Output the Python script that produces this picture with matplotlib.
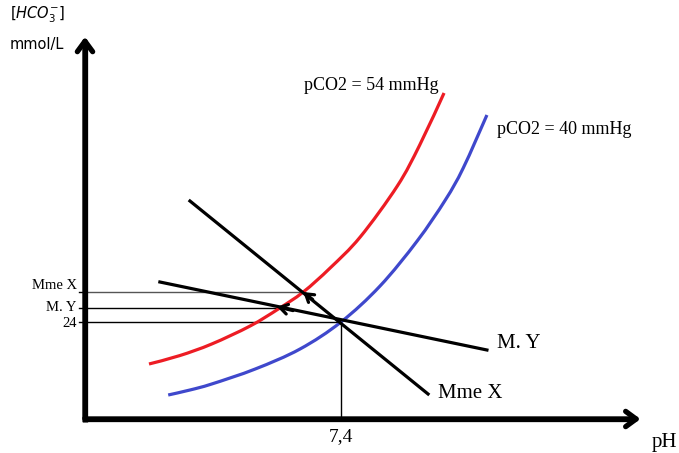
import numpy as np
import matplotlib.pyplot as plt
from matplotlib.path import Path
from matplotlib.patches import PathPatch

# pH / [HCO3-] values
ph_40 = [7.130, 7.164, 7.198, 7.266, 7.336, 7.400, 7.461, 7.519, 7.563, 7.591, 7.628]
hco3_40 = [5.75, 7.0, 8.5, 12.25, 17.25, 24.0, 33.0, 44.25, 54.5, 62.5, 75.75]

ph_54 = [7.100, 7.148, 7.198, 7.258, 7.302, 7.341, 7.383, 7.430, 7.488, 7.523, 7.561]
hco3_54 = [13.5, 15.6, 18.5, 23.0, 27.25, 31.5, 37.5, 45.25, 58.0, 68.25, 81.25]

# buffer lines through the normal point
mme_x_ph = [7.164, 7.536]
mme_x_hco3 = [54.25, 6.0]
my_ph = [7.117, 7.628]
my_hco3 = [34.0, 17.0]

normal_ph = 7.40
normal_hco3 = 24.0
levels = [31.5, 27.5, 24.0]
level_labels = ["Mme X", "M. Y", "24"]
level_ends = [7.341, 7.30, 7.40]
level_colors = ["#555555", "black", "black"]

red = "#ed1c24"
blue = "#3f48cc"
serif = "Liberation Serif"


def smooth_path(xs, ys):
    # bezier path through the read points (catmull-rom handles)
    p = np.column_stack([xs, ys])
    verts = [p[0]]
    codes = [Path.MOVETO]
    for i in range(len(p) - 1):
        p0 = p[i - 1] if i > 0 else p[i]
        p3 = p[i + 2] if i + 2 < len(p) else p[i + 1]
        c1 = p[i] + (p[i + 1] - p0) / 6
        c2 = p[i + 1] - (p3 - p[i]) / 6
        verts += [c1, c2, p[i + 1]]
        codes += [Path.CURVE4] * 3
    return Path(verts, codes)


fig = plt.figure(figsize=(6.79, 4.53), dpi=100)
ax = fig.add_axes([0, 0, 1, 1])
ax.set_xlim(6.8672, 7.9281)
ax.set_ylim(-8.75, 104.5)
ax.axis("off")

# axes with arrows
ax.plot([7.0, 7.0], [-0.9, 94], color="black", lw=3.8, solid_capstyle="butt")
ax.plot([7.0 - 2.6 / 640, 7.86], [-0.25, -0.25], color="black", lw=3.8,
        solid_capstyle="butt")
ax.annotate("", xy=(7.0, 95.3), xytext=(7.0, 0.0),
            arrowprops=dict(arrowstyle="->,head_length=0.75,head_width=0.55",
                            lw=3.8, color="black", shrinkA=0, shrinkB=0))
ax.annotate("", xy=(7.868, -0.25), xytext=(7.0, -0.25),
            arrowprops=dict(arrowstyle="->,head_length=0.75,head_width=0.55",
                            lw=3.8, color="black", shrinkA=0, shrinkB=0))

# guide lines, ticks and labels
for lev, lab, xe, c in zip(levels, level_labels, level_ends, level_colors):
    ax.plot([7.0, xe], [lev, lev], color=c, lw=1.0, zorder=1)
    ax.plot([7.0 - 6 / 640, 7.0], [lev, lev], color="black", lw=1.0)
ax.text(6.9875, levels[0] + 1.6, level_labels[0], ha="right", va="center",
        family=serif, fontsize=10.5)
ax.text(6.9875, levels[1] + 0.2, level_labels[1], ha="right", va="center",
        family=serif, fontsize=10.5)
ax.text(6.9875, levels[2] - 0.3, level_labels[2], ha="right", va="center",
        family=serif, fontsize=10.5)
ax.plot([normal_ph, normal_ph], [normal_hco3, 0], color="black", lw=1.0, zorder=1)

# curves
ax.add_patch(PathPatch(smooth_path(ph_54, hco3_54), fill=False, edgecolor=red,
                       lw=2.3, capstyle="butt", zorder=2))
ax.add_patch(PathPatch(smooth_path(ph_40, hco3_40), fill=False, edgecolor=blue,
                       lw=2.3, capstyle="butt", zorder=2))

# buffer lines
ax.plot(mme_x_ph, mme_x_hco3, color="black", lw=2.3, zorder=3)
ax.plot(my_ph, my_hco3, color="black", lw=2.3, zorder=3)

# arrowheads on the lines
for tip in [(7.341, 31.5), (7.30, 27.8)]:
    back = (tip[0] + 0.25 * (normal_ph - tip[0]), tip[1] + 0.25 * (normal_hco3 - tip[1]))
    ax.annotate("", xy=tip, xytext=back,
                arrowprops=dict(arrowstyle="->,head_length=0.55,head_width=0.35",
                                lw=2.3, color="black", shrinkA=0, shrinkB=0),
                zorder=4)

# texts
ax.text(7.342, 83.25, "pCO2 = 54 mmHg", family=serif, fontsize=13, va="center")
ax.text(7.644, 72.0, "pCO2 = 40 mmHg", family=serif, fontsize=13, va="center")
ax.text(7.644, 18.75, "M. Y", family=serif, fontsize=15, va="center")
ax.text(7.552, 6.25, "Mme X", family=serif, fontsize=15, va="center")
ax.text(7.40, -4.75, "7,4", family=serif, fontsize=14, ha="center", va="center")
ax.text(7.886, -6.0, "pH", family=serif, fontsize=15, va="center")
ax.text(6.883, 100.75, r"[$HCO_3^{-}$]", fontsize=10.5, va="center")
ax.text(6.883, 93.25, "mmol/L", fontsize=10.5, va="center")

fig.savefig("out.png", dpi=100)
